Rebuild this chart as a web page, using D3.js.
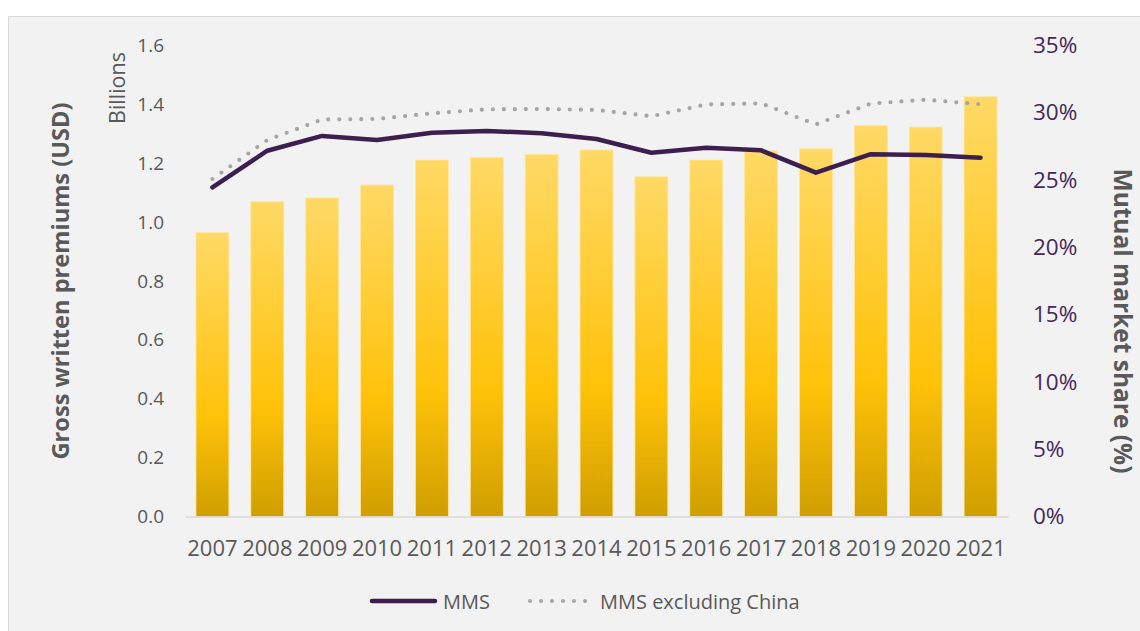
<!DOCTYPE html>
<html>
<head>
<meta charset="utf-8">
<script src="https://cdn.jsdelivr.net/npm/d3@7"></script>
<style>
  html, body { margin: 0; padding: 0; background: #ffffff; }
  svg { display: block; font-family: "Open Sans", "DejaVu Sans", sans-serif; }
</style>
</head>
<body>
<svg id="chart" width="1140" height="631"></svg>
<script>
// Years on the category axis
const years = ["2007","2008","2009","2010","2011","2012","2013","2014","2015","2016","2017","2018","2019","2020","2021"];
// Gross written premiums, USD billions
const premiums = [0.964, 1.069, 1.082, 1.126, 1.211, 1.219, 1.230, 1.245, 1.154, 1.211, 1.242, 1.249, 1.328, 1.323, 1.426];
// Mutual market share, percent
const mms = [24.46, 27.18, 28.28, 27.98, 28.52, 28.65, 28.48, 28.05, 27.03, 27.41, 27.21, 25.55, 26.92, 26.86, 26.66];
// Mutual market share excluding China, percent
const mmsExChina = [25.08, 27.98, 29.50, 29.54, 29.96, 30.26, 30.28, 30.21, 29.74, 30.62, 30.70, 29.14, 30.68, 30.97, 30.63];
// Axis ticks
const leftTicks = [0, 0.2, 0.4, 0.6, 0.8, 1.0, 1.2, 1.4, 1.6];
const rightTicks = [0, 5, 10, 15, 20, 25, 30, 35];
// Legend entries
const legendLabels = ["MMS", "MMS excluding China"];

const svg = d3.select("#chart");
const W = 1140, H = 631;
const plot = { left: 185, right: 1008, top: 45.5, bottom: 516.5 };

// Panel background
svg.append("rect")
  .attr("x", 8.5).attr("y", 16.5)
  .attr("width", W).attr("height", H)
  .attr("fill", "#F2F2F2")
  .attr("stroke", "#D9D9D9").attr("stroke-width", 1);

const x = d3.scaleBand().domain(years).range([plot.left, plot.right]).paddingInner(0.4).paddingOuter(0.2);
const yL = d3.scaleLinear().domain([0, 1.6]).range([plot.bottom, plot.top]);
const yR = d3.scaleLinear().domain([0, 35]).range([plot.bottom, plot.top]);

// Bar gradient
const defs = svg.append("defs");
const grad = defs.append("linearGradient").attr("id", "barFill")
  .attr("x1", 0).attr("y1", 0).attr("x2", 0).attr("y2", 1);
grad.append("stop").attr("offset", "0%").attr("stop-color", "#FFD966");
grad.append("stop").attr("offset", "65%").attr("stop-color", "#FFC209");
grad.append("stop").attr("offset", "100%").attr("stop-color", "#CF9E00");

// Bars
svg.append("g").selectAll("rect")
  .data(premiums)
  .join("rect")
  .attr("x", (d, i) => x(years[i]))
  .attr("y", d => yL(d))
  .attr("width", x.bandwidth())
  .attr("height", d => yL(0) - yL(d))
  .attr("fill", "url(#barFill)")
  .attr("stroke", "#FFE699").attr("stroke-width", 0.8);

// Category axis
const xAxis = svg.append("g")
  .attr("transform", `translate(0,${plot.bottom})`)
  .call(d3.axisBottom(x).tickSize(0).tickPadding(24));
xAxis.select(".domain").attr("stroke", "#D9D9D9").attr("stroke-width", 1.5);
xAxis.selectAll("text").attr("fill", "#595959").attr("font-size", 22).attr("font-family", "Open Sans");

// Left axis
const leftAxis = svg.append("g")
  .attr("transform", `translate(${plot.left},0)`)
  .call(d3.axisLeft(yL).tickValues(leftTicks).tickFormat(d3.format(".1f")).tickSize(0).tickPadding(21));
leftAxis.select(".domain").remove();
leftAxis.selectAll("text").attr("fill", "#595959").attr("font-size", 19).attr("font-family", "Open Sans");

// Right axis
const rightAxis = svg.append("g")
  .attr("transform", `translate(${plot.right},0)`)
  .call(d3.axisRight(yR).tickValues(rightTicks).tickFormat(d => d + "%").tickSize(0).tickPadding(25));
rightAxis.select(".domain").remove();
rightAxis.selectAll("text").attr("fill", "#44285A").attr("font-size", 22.5).attr("font-family", "Open Sans");

// Lines
const lineGen = d3.line()
  .x((d, i) => x(years[i]) + x.bandwidth() / 2)
  .y(d => yR(d));

svg.append("path")
  .datum(mmsExChina)
  .attr("d", lineGen)
  .attr("fill", "none")
  .attr("stroke", "#A6A6A6")
  .attr("stroke-width", 4.2)
  .attr("stroke-linecap", "round")
  .attr("stroke-dasharray", "0 11");

svg.append("path")
  .datum(mms)
  .attr("d", lineGen)
  .attr("fill", "none")
  .attr("stroke", "#3D1F4F")
  .attr("stroke-width", 4.5)
  .attr("stroke-linecap", "round")
  .attr("stroke-linejoin", "round");

// Axis titles
svg.append("text")
  .attr("transform", "translate(60,281) rotate(-90)")
  .attr("text-anchor", "middle").attr("dominant-baseline", "central")
  .attr("font-size", 23.6).attr("font-weight", "bold").attr("fill", "#595959")
  .text("Gross written premiums (USD)");

svg.append("text")
  .attr("transform", "translate(116,88) rotate(-90)")
  .attr("text-anchor", "middle").attr("dominant-baseline", "central")
  .attr("font-size", 21.5).attr("fill", "#595959")
  .text("Billions");

svg.append("text")
  .attr("transform", "translate(1123,321) rotate(90)")
  .attr("text-anchor", "middle").attr("dominant-baseline", "central")
  .attr("font-size", 24.5).attr("font-weight", "bold").attr("fill", "#595959")
  .text("Mutual market share (%)");

// Legend
const legY = 601;
const legend = svg.append("g");
legend.append("line")
  .attr("x1", 372).attr("x2", 435).attr("y1", legY).attr("y2", legY)
  .attr("stroke", "#3D1F4F").attr("stroke-width", 4.5).attr("stroke-linecap", "round");
legend.append("text")
  .attr("x", 443).attr("y", legY).attr("dominant-baseline", "central")
  .attr("font-size", 20).attr("fill", "#595959").text(legendLabels[0]);
legend.append("line")
  .attr("x1", 530).attr("x2", 588).attr("y1", legY).attr("y2", legY)
  .attr("stroke", "#A6A6A6").attr("stroke-width", 4).attr("stroke-linecap", "round")
  .attr("stroke-dasharray", "0 11");
legend.append("text")
  .attr("x", 600).attr("y", legY).attr("dominant-baseline", "central")
  .attr("font-size", 20).attr("fill", "#595959").text(legendLabels[1]);
</script>
</body>
</html>
